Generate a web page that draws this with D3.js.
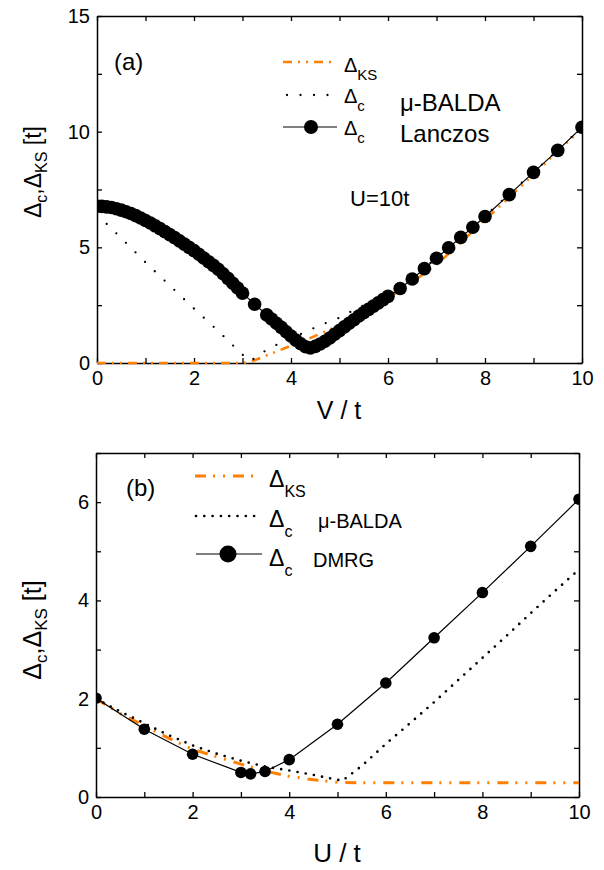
<!DOCTYPE html>
<html><head><meta charset="utf-8">
<script src="https://cdn.jsdelivr.net/npm/d3@7"></script>
<style>
html,body{margin:0;padding:0;background:#fff;}
svg text{font-family:"Liberation Sans",Arial,sans-serif;fill:#000;}
</style>
</head><body>
<svg id="chart" width="604" height="870"></svg>
<script>
// ---------- Panel (a): U = 10t, x = V/t ----------
const aKS_V   = [0,0.5,1,1.5,2,2.5,3.0,3.1,3.25,3.5,3.75,4.0,4.25,4.5,4.75,5.0,5.5,6.0,6.5,7.0,7.5,8.0,8.5,9.0,9.5,10];
const aKS_val = [0,0,0,0,0,0,0,0.02,0.12,0.33,0.54,0.75,0.95,1.17,1.40,1.65,2.20,2.80,3.50,4.25,5.20,6.20,7.15,8.15,9.15,10.15];

const aBalda_V   = [0,0.5,1.0,1.5,2.0,2.5,3.0,3.17,3.33,3.6,3.88,4.43,4.72,4.99,5.26,5.55,5.83,6.1,6.5,7.0,7.5,8.0,8.5,9.0,9.5,10];
const aBalda_val = [6.42,5.40,4.35,3.35,2.35,1.38,0.36,0.08,0.35,0.69,0.95,1.47,1.73,1.95,2.25,2.55,2.86,3.15,3.65,4.55,5.45,6.35,7.30,8.25,9.20,10.2];

const aLanczos_V = [0,0.1,0.2,0.3,0.4,0.5,0.6,0.7,0.8,0.9,1.0,1.1,1.2,1.3,1.4,1.5,1.6,1.7,1.8,1.9,2.0,
  2.1,2.2,2.3,2.4,2.5,2.6,2.7,2.8,2.9,3.0,3.25,3.5,3.6,3.7,3.8,3.9,4.0,4.1,4.2,4.3,4.4,4.5,4.6,4.7,4.8,4.9,
  5.0,5.1,5.2,5.3,5.4,5.5,5.6,5.7,5.8,5.9,6.0,6.25,6.5,6.75,7.0,7.25,7.5,7.75,8.0,8.5,9.0,9.5,10];
const aLanczos_val = [6.78,6.77,6.75,6.72,6.67,6.61,6.54,6.46,6.37,6.27,6.16,6.05,5.93,5.81,5.68,5.55,5.42,5.28,5.14,5.00,4.86,
  4.70,4.54,4.38,4.22,4.05,3.86,3.66,3.45,3.24,3.02,2.54,2.08,1.90,1.72,1.54,1.35,1.17,0.99,0.83,0.70,0.65,0.72,0.82,0.94,1.08,1.24,
  1.40,1.56,1.72,1.87,2.03,2.18,2.32,2.46,2.60,2.74,2.88,3.22,3.63,4.08,4.53,4.98,5.43,5.87,6.33,7.28,8.24,9.19,10.19];

// ---------- Panel (b): x = U/t ----------
const bKS_U   = [0,0.5,1,1.5,2,2.5,3,3.5,4,4.5,5,5.5,6,7,8,9,10];
const bKS_val = [2.0,1.70,1.45,1.20,0.97,0.82,0.67,0.53,0.42,0.35,0.30,0.29,0.29,0.29,0.29,0.29,0.29];

const bBalda_U   = [0,0.5,1,1.5,2,2.5,3,3.5,4,4.5,5,5.1,5.5,6,6.5,7,7.5,8,8.5,9,9.5,10];
const bBalda_val = [2.0,1.74,1.50,1.26,1.05,0.88,0.74,0.62,0.54,0.45,0.35,0.33,0.63,1.08,1.50,1.93,2.38,2.83,3.28,3.74,4.19,4.63];

const bDmrg_U   = [0,1,2,3,3.2,3.5,4,5,6,7,8,9,10];
const bDmrg_val = [2.01,1.38,0.87,0.50,0.47,0.52,0.76,1.48,2.32,3.24,4.16,5.10,6.06];

// ---------- ticks ----------
const xTicks  = [0,1,2,3,4,5,6,7,8,9,10];
const xLabels = [0,2,4,6,8,10];
const aYTicks = [0,2.5,5,7.5,10,12.5,15];
const aYLabels = [0,5,10,15];
const bYTicks = [0,1,2,3,4,5,6,7];
const bYLabels = [0,2,4,6];

const ORANGE = "#ff7f00";
const svg = d3.select("#chart");

function panel(cfg){
  const g = svg.append("g");
  const x = cfg.x, y = cfg.y;
  const [x0,x1] = x.range(), [y0,y1] = y.range();
  const clipId = "clip"+cfg.id;
  svg.append("defs").append("clipPath").attr("id",clipId)
    .append("rect").attr("x",x0).attr("y",y1).attr("width",x1-x0).attr("height",y0-y1+2);

  const fmtX = d => xLabels.includes(d) ? d : "";
  const fmtY = d => cfg.yLabels.includes(d) ? d : "";
  const axStyle = sel => {
    sel.selectAll("path.domain").attr("stroke","#000").attr("stroke-width",1.5);
    sel.selectAll(".tick line").attr("stroke","#000").attr("stroke-width",1.3);
    sel.selectAll(".tick text").attr("font-size",20).attr("font-family","Liberation Sans, Arial, sans-serif").attr("fill","#000");
  };
  g.append("g").attr("transform",`translate(0,${y0})`)
    .call(d3.axisBottom(x).tickValues(xTicks).tickFormat(fmtX).tickSize(-5).tickSizeOuter(0).tickPadding(8)).call(axStyle);
  g.append("g").attr("transform",`translate(0,${y1})`)
    .call(d3.axisTop(x).tickValues(xTicks).tickFormat("").tickSize(-5).tickSizeOuter(0)).call(axStyle);
  g.append("g").attr("transform",`translate(${x0},0)`)
    .call(d3.axisLeft(y).tickValues(cfg.yTicks).tickFormat(fmtY).tickSize(-5).tickSizeOuter(0).tickPadding(7)).call(axStyle);
  g.append("g").attr("transform",`translate(${x1},0)`)
    .call(d3.axisRight(y).tickValues(cfg.yTicks).tickFormat("").tickSize(-5).tickSizeOuter(0)).call(axStyle);

  const data = g.append("g").attr("clip-path",`url(#${clipId})`);
  const line = d3.line().x(d=>x(d[0])).y(d=>y(d[1]));
  const zip = (a,b) => a.map((v,i)=>[v,b[i]]);

  // KS (orange dash-dot-dot)
  data.append("path").datum(zip(cfg.ks[0],cfg.ks[1]))
    .attr("d",line).attr("fill","none").attr("stroke",ORANGE)
    .attr("stroke-width",cfg.ksW).attr("stroke-dasharray",cfg.ksDash);
  // mu-BALDA dotted
  data.append("path").datum(zip(cfg.balda[0],cfg.balda[1]))
    .attr("d",line).attr("fill","none").attr("stroke","#000")
    .attr("stroke-width",cfg.dotW).attr("stroke-linecap","round").attr("stroke-dasharray",cfg.dotDash);
  // exact: solid line + circles
  const ex = zip(cfg.exact[0],cfg.exact[1]);
  data.append("path").datum(ex).attr("d",line).attr("fill","none").attr("stroke","#000").attr("stroke-width",1.2);
  data.selectAll("circle").data(ex).enter().append("circle")
    .attr("cx",d=>x(d[0])).attr("cy",d=>y(d[1])).attr("r",cfg.r).attr("fill","#000");
  return g;
}

const xA = d3.scaleLinear().domain([0,10]).range([97,582]);
const yA = d3.scaleLinear().domain([0,15]).range([363,16]);
const xB = d3.scaleLinear().domain([0,10]).range([96,579]);
const yB = d3.scaleLinear().domain([0,7]).range([797,453]);

panel({id:"a",x:xA,y:yA,yTicks:aYTicks,yLabels:aYLabels,
  ks:[aKS_V,aKS_val],balda:[aBalda_V,aBalda_val],exact:[aLanczos_V,aLanczos_val],
  ksW:2.5,ksDash:"9,6,2,6,2,6",dotW:2.3,dotDash:"0,13.5",r:6.8});
panel({id:"b",x:xB,y:yB,yTicks:bYTicks,yLabels:bYLabels,
  ks:[bKS_U,bKS_val],balda:[bBalda_U,bBalda_val],exact:[bDmrg_U,bDmrg_val],
  ksW:3,ksDash:"11,7,2,8,2,8",dotW:2.7,dotDash:"0,8.3",r:5.8});

// ---------- text helpers ----------
function deltaText(parent, xp, yp, sub, size, subSize, subDy){
  const t = parent.append("text").attr("x",xp).attr("y",yp).attr("font-size",size);
  t.append("tspan").text("Δ");
  t.append("tspan").attr("font-size",subSize).attr("dy",subDy).text(sub);
  return t;
}

// axis titles
svg.append("text").attr("x",339).attr("y",419).attr("text-anchor","middle").attr("font-size",25).text("V / t");
svg.append("text").attr("x",337).attr("y",862).attr("text-anchor","middle").attr("font-size",26).text("U / t");

function yTitle(cx, cy, size, subSize){
  const t = svg.append("text").attr("transform",`translate(${cx},${cy}) rotate(-90)`)
    .attr("text-anchor","middle").attr("font-size",size);
  t.append("tspan").text("Δ");
  t.append("tspan").attr("font-size",subSize).attr("dy",subSize*0.35).text("c");
  t.append("tspan").attr("dy",-subSize*0.35).text(",Δ");
  t.append("tspan").attr("font-size",subSize).attr("dy",subSize*0.35).text("KS");
  t.append("tspan").attr("dy",-subSize*0.35).text(" [t]");
}
yTitle(41,172,23,16);
yTitle(41,630,25,17);

// panel labels
svg.append("text").attr("x",114).attr("y",70).attr("font-size",24).text("(a)");
svg.append("text").attr("x",126).attr("y",496).attr("font-size",24).text("(b)");

// ---------- legend (a) ----------
const la = svg.append("g");
const legLine = d3.line();
la.append("path").attr("d",legLine([[283,62],[335,62]])).attr("stroke",ORANGE).attr("stroke-width",2.5).attr("stroke-dasharray","9,6,2,6,2,6").attr("fill","none");
la.append("path").attr("d",legLine([[287,95],[335,95]])).attr("stroke","#000").attr("stroke-width",2.3).attr("stroke-linecap","round").attr("stroke-dasharray","0,13.5").attr("fill","none");
la.append("path").attr("d",legLine([[283,127],[337,127]])).attr("stroke","#000").attr("stroke-width",1.2).attr("fill","none");
la.append("circle").attr("cx",311).attr("cy",127).attr("r",7).attr("fill","#000");
deltaText(la,344,72,"KS",20,15,8);
deltaText(la,344,103,"c",20,15,8);
deltaText(la,344,135,"c",20,15,8);
la.append("text").attr("x",400).attr("y",111).attr("font-size",24).text("μ-BALDA");
la.append("text").attr("x",400).attr("y",142).attr("font-size",24).text("Lanczos");
la.append("text").attr("x",350).attr("y",206).attr("font-size",22).text("U=10t");

// ---------- legend (b) ----------
const lb = svg.append("g");
lb.append("path").attr("d",legLine([[195,476],[255,476]])).attr("stroke",ORANGE).attr("stroke-width",3).attr("stroke-dasharray","11,7,2,8,2,8").attr("fill","none");
lb.append("path").attr("d",legLine([[196,516],[256,516]])).attr("stroke","#000").attr("stroke-width",2.7).attr("stroke-linecap","round").attr("stroke-dasharray","0,8.3").attr("fill","none");
lb.append("path").attr("d",legLine([[196,554],[262,554]])).attr("stroke","#000").attr("stroke-width",1.2).attr("fill","none");
lb.append("circle").attr("cx",228).attr("cy",554).attr("r",8.5).attr("fill","#000");
deltaText(lb,269,487,"KS",23,16,10);
deltaText(lb,269,527,"c",23,16,10);
deltaText(lb,269,566,"c",23,16,10);
lb.append("text").attr("x",318).attr("y",528).attr("font-size",20).text("μ-BALDA");
lb.append("text").attr("x",313).attr("y",567).attr("font-size",20).text("DMRG");
</script>
</body></html>
